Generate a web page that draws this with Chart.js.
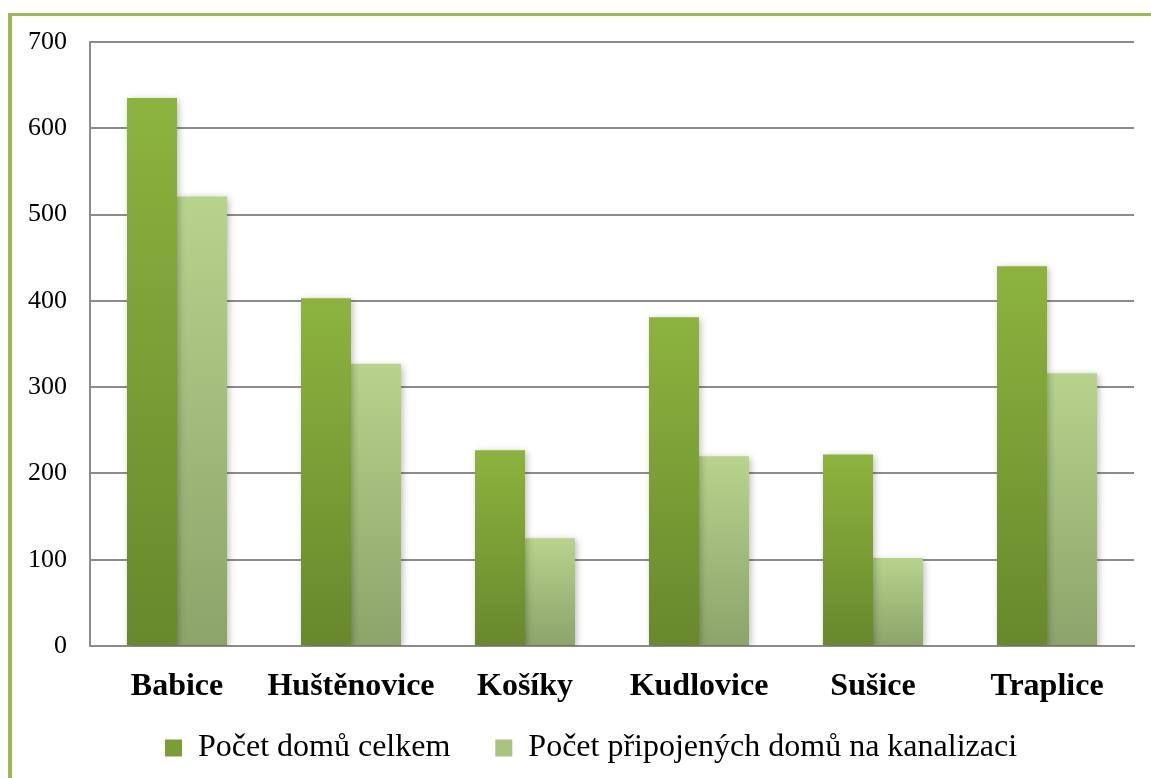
<!DOCTYPE html>
<html>
<head>
<meta charset="utf-8">
<script src="https://cdn.jsdelivr.net/npm/chart.js@4"></script>
<style>
  html, body { margin: 0; padding: 0; background: #fff; }
  #frame { position: absolute; left: 8px; top: 13px; width: 1139px; height: 765px;
           border-left: 4px solid #9BBB59; border-top: 3px solid #9BBB59; }
  #wrap { position: absolute; left: 0; top: 0; width: 1151px; height: 778px; }
</style>
</head>
<body>
<div id="frame"></div>
<div id="wrap"><canvas id="c" width="1151" height="778"></canvas></div>
<script>
const categories = ["Babice", "Huštěnovice", "Košíky", "Kudlovice", "Sušice", "Traplice"];
const totalHouses = [635, 403, 227, 381, 222, 440];
const connectedHouses = [521, 327, 125, 220, 102, 316];
const seriesNames = ["Počet domů celkem", "Počet připojených domů na kanalizaci"];
const yTicks = [0, 100, 200, 300, 400, 500, 600, 700];

function barGradient(top, bottom) {
  return function (ctx) {
    const chart = ctx.chart;
    if (!chart.chartArea || ctx.type !== 'data') return top;
    const y = chart.scales.y;
    const yTop = y.getPixelForValue(ctx.raw);
    const yBot = y.getPixelForValue(0);
    if (!isFinite(yTop) || yTop === yBot) return top;
    const g = chart.ctx.createLinearGradient(0, yTop, 0, yBot);
    g.addColorStop(0, top);
    g.addColorStop(1, bottom);
    return g;
  };
}

const shadowPlugin = {
  id: 'barShadow',
  beforeDatasetsDraw(chart) {
    const c = chart.ctx;
    c.save();
    c.shadowColor = 'rgba(0,0,0,0.28)';
    c.shadowBlur = 7;
    c.shadowOffsetX = 2;
    c.shadowOffsetY = 2;
  },
  afterDatasetsDraw(chart) { chart.ctx.restore(); }
};

const noClip = () => undefined;
const legendColors = ['#7A9E35', '#A9C47F'];

new Chart(document.getElementById('c'), {
  type: 'bar',
  data: {
    labels: categories,
    datasets: [
      { label: seriesNames[0], data: totalHouses, backgroundColor: barGradient('#8DB33F', '#68882C') },
      { label: seriesNames[1], data: connectedHouses, backgroundColor: barGradient('#B7D38C', '#8CA46A') }
    ]
  },
  plugins: [shadowPlugin],
  options: {
    responsive: false,
    animation: false,
    devicePixelRatio: 1,
    layout: { padding: { left: 48, right: 17, top: 42, bottom: 4 } },
    datasets: { bar: { categoryPercentage: 0.575, barPercentage: 1.0 } },
    scales: {
      x: {
        grid: { display: false, drawTicks: false },
        border: { display: true, color: '#8C8C8C', width: 2 },
        ticks: { color: '#000', font: { family: 'Liberation Serif', size: 32, weight: 'bold' }, padding: 22 },
        afterFit(s) { s.height = 41; s._computeLabelArea = noClip; }
      },
      y: {
        min: 0, max: 700,
        afterBuildTicks(s) { s.ticks = yTicks.map(v => ({ value: v })); },
        grid: { color: '#8C8C8C', lineWidth: 2, drawTicks: false },
        border: { display: true, color: '#8C8C8C', width: 2 },
        ticks: { color: '#000', font: { family: 'Liberation Serif', size: 26 }, padding: 23 },
        afterFit(s) { s.width = 42; s._computeLabelArea = noClip; }
      }
    },
    plugins: {
      tooltip: { enabled: false },
      legend: {
        position: 'bottom',
        labels: {
          color: '#000',
          font: { family: 'Liberation Serif', size: 32 },
          boxWidth: 17, boxHeight: 17, padding: 45,
          generateLabels(chart) {
            return chart.data.datasets.map((d, i) => ({
              text: d.label, fillStyle: legendColors[i], strokeStyle: legendColors[i],
              lineWidth: 0, hidden: false, datasetIndex: i
            }));
          }
        }
      }
    }
  }
});
</script>
</body>
</html>
